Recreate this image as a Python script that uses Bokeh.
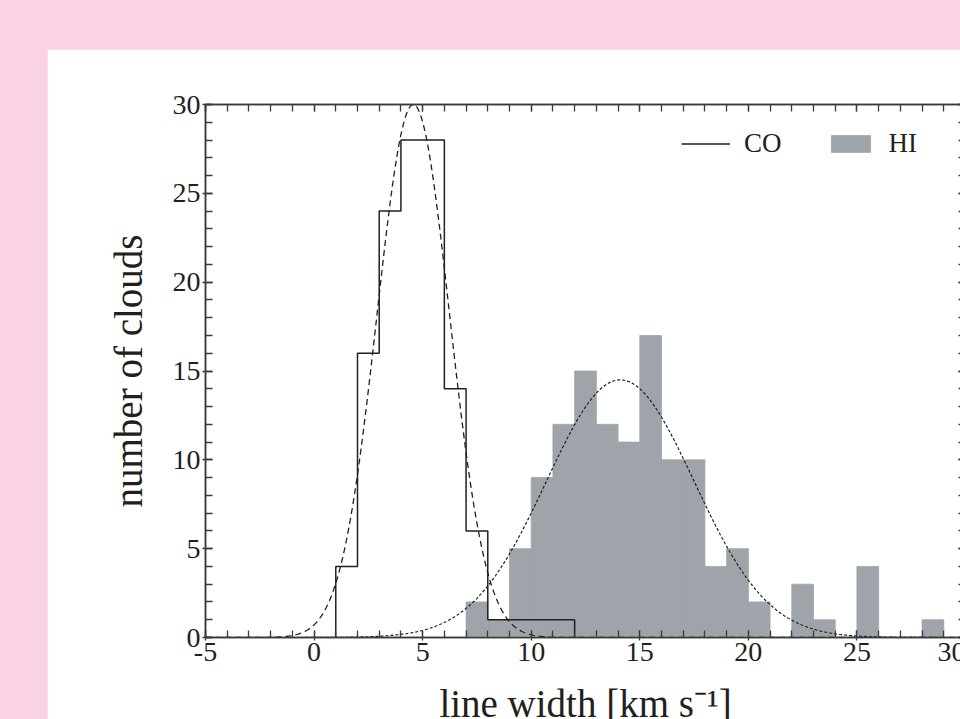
import numpy as np
from bokeh.plotting import figure
from bokeh.models import LinearAxis, Legend, LegendItem, Range1d, FixedTicker
from bokeh.embed import file_html
from bokeh.resources import INLINE

# ---------------- data ----------------
co_bin_left = [1, 2, 3, 4, 5, 6, 7, 8, 9, 10, 11]
co_counts = [4, 16, 24, 28, 28, 14, 6, 1, 1, 1, 1]

hi_bin_left = [7, 8, 9, 10, 11, 12, 13, 14, 15, 16, 17, 18, 19, 20, 21, 22, 23, 24, 25, 26, 27, 28]
hi_counts = [2, 1, 5, 9, 12, 15, 12, 11, 17, 10, 10, 4, 5, 2, 0, 3, 1, 0, 4, 0, 0, 1]
bin_width = 1

# Gaussian fits (amplitude, mean, sigma)
co_fit_amp, co_fit_mean, co_fit_sigma = 30.0, 4.57, 1.67
hi_fit_amp, hi_fit_mean, hi_fit_sigma = 14.5, 14.1, 3.4

x_tick_values = [-5, 0, 5, 10, 15, 20, 25, 30]
x_tick_labels = ["-5", "0", "5", "10", "15", "20", "25", "30"]
y_tick_values = [0, 5, 10, 15, 20, 25, 30]
y_tick_labels = ["0", "5", "10", "15", "20", "25", "30"]

X_MIN, X_MAX = -5, 30
Y_MIN, Y_MAX = 0, 30

# ---------------- style ----------------
FONT = "Liberation Serif"
INK = "#231F20"
AXIS = "#3a3a3a"
BAR = "#9EA4A9"
PINK = "#F9D3E4"

p = figure(
    frame_width=760, frame_height=533,
    x_range=Range1d(X_MIN, X_MAX), y_range=Range1d(Y_MIN, Y_MAX),
    output_backend="svg", toolbar_location=None,
    min_border_left=158, min_border_top=55, min_border_bottom=82, min_border_right=0,
    background_fill_color="white", border_fill_color="white",
    x_axis_location=None, y_axis_location=None,
)
p.grid.visible = False
p.outline_line_color = AXIS
p.outline_line_width = 1.5

minor_x = list(range(X_MIN, X_MAX + 1))
minor_y = list(range(Y_MIN, Y_MAX + 1))


def style_axis(ax, show_labels):
    ax.axis_line_color = AXIS
    ax.axis_line_width = 1.5
    ax.major_tick_line_color = AXIS
    ax.minor_tick_line_color = AXIS
    ax.major_tick_line_width = 1.3
    ax.minor_tick_line_width = 1.3
    ax.major_tick_in = 7
    ax.major_tick_out = 3
    ax.minor_tick_in = 7
    ax.minor_tick_out = 0
    ax.major_label_text_font = FONT
    ax.major_label_text_font_size = "28px"
    ax.major_label_text_color = INK if show_labels else None
    ax.major_label_standoff = 2
    ax.axis_label_text_font = FONT
    ax.axis_label_text_font_size = "39px"
    ax.axis_label_text_font_style = "normal"
    ax.axis_label_text_color = INK


xb = LinearAxis(ticker=FixedTicker(ticks=x_tick_values, minor_ticks=minor_x),
                axis_label="line width [km s\u207b\u00b9]")
xb.major_label_overrides = dict(zip(x_tick_values, x_tick_labels))
style_axis(xb, True)
xb.axis_label_standoff = 18
p.add_layout(xb, "below")

yl = LinearAxis(ticker=FixedTicker(ticks=y_tick_values, minor_ticks=minor_y),
                axis_label="number of clouds")
yl.major_label_overrides = dict(zip(y_tick_values, y_tick_labels))
style_axis(yl, True)
yl.axis_label_standoff = 20
p.add_layout(yl, "left")

xt = LinearAxis(ticker=FixedTicker(ticks=x_tick_values, minor_ticks=minor_x))
style_axis(xt, False)
xt.major_tick_out = 0
p.add_layout(xt, "above")

yr = LinearAxis(ticker=FixedTicker(ticks=y_tick_values, minor_ticks=minor_y))
style_axis(yr, False)
yr.major_tick_out = 0
p.add_layout(yr, "right")

# ---------------- HI histogram (filled) ----------------
hi_left = np.array(hi_bin_left, dtype=float)
hi_r = p.quad(left=hi_left, right=hi_left + bin_width, bottom=0, top=hi_counts,
              fill_color=BAR, line_color=BAR, line_width=0.8)

# ---------------- CO histogram (step outline) ----------------
co_x = [co_bin_left[0]]
co_y = [0]
for l, c in zip(co_bin_left, co_counts):
    co_x += [l, l + bin_width]
    co_y += [c, c]
co_x.append(co_bin_left[-1] + bin_width)
co_y.append(0)
co_r = p.line(co_x, co_y, line_color=INK, line_width=1.5)

# ---------------- Gaussian fits ----------------
xs = np.linspace(X_MIN, X_MAX, 700)
co_fit = co_fit_amp * np.exp(-0.5 * ((xs - co_fit_mean) / co_fit_sigma) ** 2)
hi_fit = hi_fit_amp * np.exp(-0.5 * ((xs - hi_fit_mean) / hi_fit_sigma) ** 2)
p.line(xs, co_fit, line_color=INK, line_width=1.3, line_dash="6 4")
p.line(xs, hi_fit, line_color=INK, line_width=1.2, line_dash="3 2")

# ---------------- legend ----------------
legend = Legend(
    items=[LegendItem(label="CO", renderers=[co_r]), LegendItem(label="HI", renderers=[hi_r])],
    orientation="horizontal", location=(476, 478),
    glyph_width=49, glyph_height=21, label_height=21,
    label_standoff=14, spacing=44, padding=0, margin=0,
    label_text_font=FONT, label_text_font_size="27px", label_text_color=INK,
    border_line_color=None, background_fill_alpha=0,
)
p.add_layout(legend)

html = file_html(p, INLINE, title="line width histogram")
html = html.replace(
    "</head>",
    "<style>html,body{margin:0;padding:0;overflow:hidden;background:%s;}"
    "body{padding:49px 0 0 47px;}</style></head>" % PINK,
    1,
)
open("out.html", "w").write(html)
